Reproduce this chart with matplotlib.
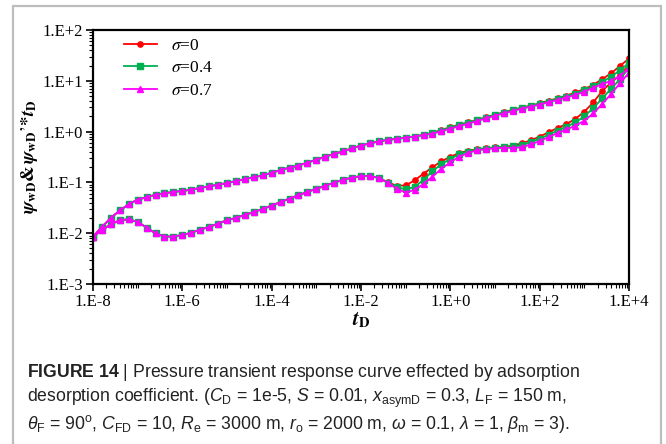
import numpy as np
import matplotlib
matplotlib.use("Agg")
import matplotlib.pyplot as plt
from matplotlib.ticker import LogLocator, FixedLocator, NullFormatter
from matplotlib.patches import Rectangle

# --- data (log10 tD from -8 to 4, step 0.2) ---
log_td = np.linspace(-8, 4, 61)

# shared part of all three curves, log tD = -8 ... -1.6
psi_early = [0.0085, 0.0133, 0.020, 0.028, 0.037, 0.046, 0.051, 0.057, 0.061, 0.065,
             0.068, 0.072, 0.078, 0.084, 0.090, 0.097, 0.106, 0.116, 0.127, 0.137,
             0.155, 0.175, 0.195, 0.215, 0.245, 0.28, 0.32, 0.365, 0.41, 0.47,
             0.53, 0.59, 0.64]
dpsi_early = [0.0085, 0.0115, 0.015, 0.018, 0.0188, 0.0166, 0.0129, 0.0099, 0.0086, 0.0086,
              0.0092, 0.0102, 0.0118, 0.0133, 0.0155, 0.018, 0.020, 0.023, 0.026, 0.030,
              0.035, 0.041, 0.048, 0.056, 0.065, 0.075, 0.086, 0.099, 0.113, 0.124,
              0.133, 0.133, 0.123]

# log tD = -1.4 ... 4.0
psi_s0 = [0.69, 0.72, 0.76, 0.80, 0.86, 0.95, 1.08, 1.22, 1.37, 1.52, 1.70, 1.92, 2.15, 2.40,
          2.70, 2.96, 3.25, 3.60, 4.05, 4.50, 5.10, 5.90, 6.90, 8.30, 10.8, 14.1, 19.7, 27.5]
psi_s04 = [0.69, 0.72, 0.76, 0.80, 0.86, 0.93, 1.05, 1.18, 1.33, 1.48, 1.66, 1.88, 2.10, 2.35,
           2.63, 2.90, 3.18, 3.50, 3.90, 4.35, 4.90, 5.60, 6.50, 7.80, 9.60, 12.0, 16.2, 22.5]
psi_s07 = [0.69, 0.72, 0.76, 0.80, 0.86, 0.91, 1.02, 1.14, 1.28, 1.43, 1.61, 1.83, 2.05, 2.28,
           2.55, 2.82, 3.10, 3.40, 3.80, 4.20, 4.70, 5.30, 6.10, 7.30, 8.60, 10.0, 12.6, 17.5]

dpsi_s0 = [0.100, 0.086, 0.087, 0.110, 0.148, 0.200, 0.260, 0.320, 0.380, 0.420, 0.450, 0.470,
           0.490, 0.500, 0.530, 0.590, 0.670, 0.800, 0.970, 1.18, 1.41, 1.78, 2.47, 3.76,
           6.30, 9.30, 12.9, 21.0]
dpsi_s04 = [0.099, 0.080, 0.073, 0.081, 0.113, 0.165, 0.230, 0.290, 0.360, 0.400, 0.440, 0.460,
            0.480, 0.490, 0.510, 0.540, 0.620, 0.720, 0.870, 1.05, 1.25, 1.52, 2.00, 2.90,
            4.50, 7.00, 10.7, 18.0]
dpsi_s07 = [0.098, 0.075, 0.063, 0.071, 0.093, 0.130, 0.185, 0.250, 0.320, 0.380, 0.430, 0.450,
            0.470, 0.480, 0.480, 0.490, 0.560, 0.650, 0.780, 0.940, 1.10, 1.31, 1.64, 2.28,
            3.50, 5.50, 9.00, 14.5]

labels = [r"$\sigma$=0", r"$\sigma$=0.4", r"$\sigma$=0.7"]
colors = ["#ff0000", "#00b050", "#ff00ff"]
markers = ["o", "s", "^"]
psi_late = [psi_s0, psi_s04, psi_s07]
dpsi_late = [dpsi_s0, dpsi_s04, dpsi_s07]

x_labels = ["1.E-8", "1.E-6", "1.E-4", "1.E-2", "1.E+0", "1.E+2", "1.E+4"]
y_labels = ["1.E-3", "1.E-2", "1.E-1", "1.E+0", "1.E+1", "1.E+2"]

plt.rcParams["mathtext.fontset"] = "custom"
plt.rcParams["mathtext.rm"] = "Liberation Sans"
plt.rcParams["mathtext.it"] = "Liberation Sans:italic"
plt.rcParams["mathtext.bf"] = "Liberation Sans:bold"

fig = plt.figure(figsize=(6.66, 4.44), dpi=100)
ax = fig.add_axes([93 / 666, 160 / 444, 536 / 666, 254 / 444])

td = 10 ** log_td
for lab, c, m, p, d in zip(labels, colors, markers, psi_late, dpsi_late):
    ax.plot(td, psi_early + p, color=c, marker=m, ms=3.8, lw=1.3, label=lab)
    ax.plot(td, dpsi_early + d, color=c, marker=m, ms=3.8, lw=1.3)

ax.set_xscale("log")
ax.set_yscale("log")
ax.set_xlim(1e-8, 1e4)
ax.set_ylim(1e-3, 1e2)

serif = "Liberation Serif"
ax.xaxis.set_major_locator(FixedLocator([10.0 ** k for k in range(-8, 5, 2)]))
ax.set_xticklabels(x_labels, family=serif, fontsize=12)
ax.xaxis.set_minor_locator(LogLocator(base=10, subs=np.arange(1, 10), numticks=30))
ax.xaxis.set_minor_formatter(NullFormatter())
ax.yaxis.set_major_locator(FixedLocator([10.0 ** k for k in range(-3, 3)]))
ax.set_yticklabels(y_labels, family=serif, fontsize=12)
ax.yaxis.set_minor_locator(LogLocator(base=10, subs=np.arange(2, 10), numticks=30))
ax.yaxis.set_minor_formatter(NullFormatter())
ax.tick_params(which="major", direction="out", length=5, width=1.2, pad=2)
ax.tick_params(which="minor", direction="out", length=3, width=0.8)
for s in ax.spines.values():
    s.set_linewidth(1.6)

ax.set_xlabel(r"$\mathbfit{t}_{\mathbf{D}}$", fontsize=15, math_fontfamily="stix", labelpad=0)
ylab = (r"$\mathbfit{\psi}_{\mathbf{wD}}\mathbf{&}\,\mathbfit{\psi}_{\mathbf{wD}}"
        + "\u2019"
        + r"\mathbf{*}\mathbfit{t}_{\mathbf{D}}$")
ax.set_ylabel(ylab, fontsize=13.5, math_fontfamily="stix")
ax.yaxis.set_label_coords(-0.098, 0.5)

ax.legend(loc="upper left", bbox_to_anchor=(0.028, 1.03), frameon=False,
          prop=dict(family=serif, size=12.5, math_fontfamily="stix"),
          handlelength=1.9, handletextpad=0.8, labelspacing=0.35)

# outer frame and caption
fig.add_artist(Rectangle((13 / 666, -0.05), 648 / 666, 1.05 - 6 / 444, transform=fig.transFigure,
                         fill=False, ec="#bdbdbd", lw=1.6))
cap = dict(family="Liberation Sans", fontsize=12.7, color="#222222", va="center", ha="left")
fig.text(27 / 666, 1 - 372 / 444,
         r"$\mathbf{FIGURE\ 14}$ | Pressure transient response curve effected by adsorption", **cap)
fig.text(27 / 666, 1 - 398 / 444,
         r"desorption coefficient. ($C_{\rm D}$ = 1e-5, $S$ = 0.01, $x_{\rm asymD}$ = 0.3, $L_{\rm F}$ = 150 m,", **cap)
fig.text(27 / 666, 1 - 424 / 444,
         r"$\theta_{\rm F}$ = 90$^{\rm o}$, $C_{\rm FD}$ = 10, $R_{\rm e}$ = 3000 m, $r_{\rm o}$ = 2000 m, $\omega$ = 0.1, $\lambda$ = 1, $\beta_{\rm m}$ = 3).", **cap)

fig.savefig("out.png", dpi=100)
